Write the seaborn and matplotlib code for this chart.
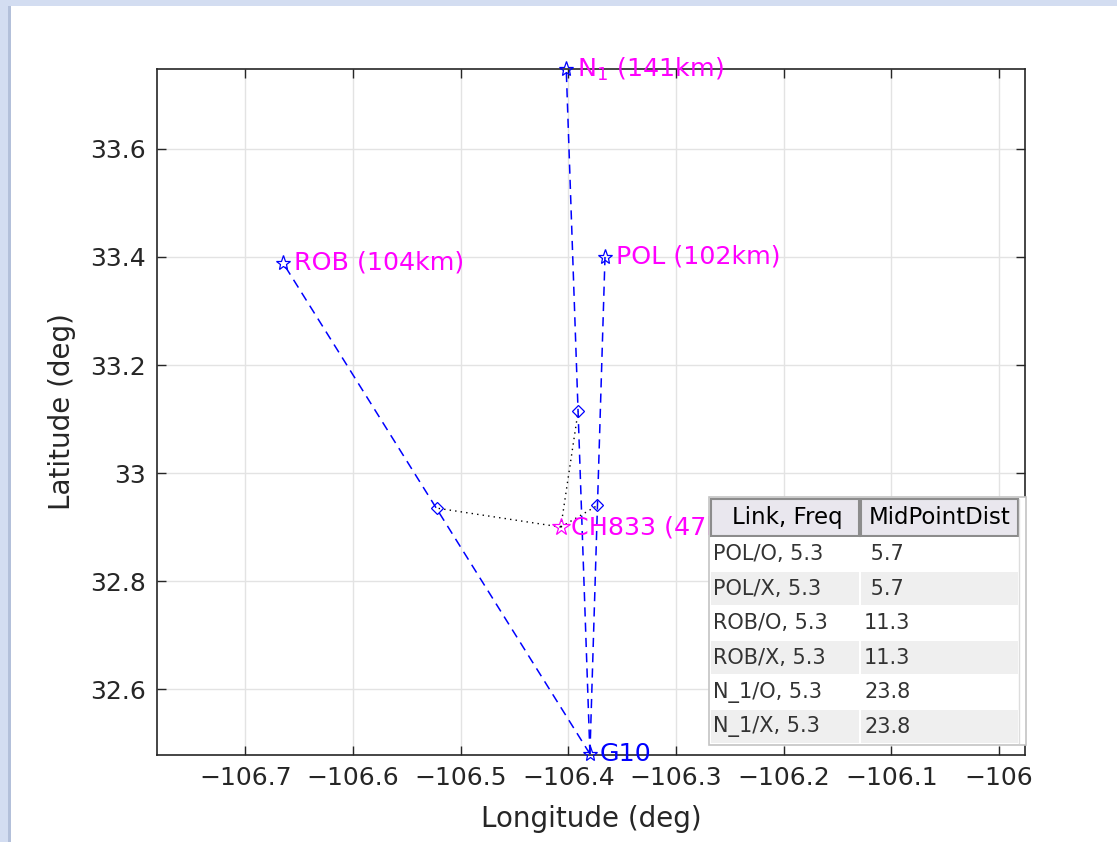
import numpy as np
import pandas as pd
import matplotlib
matplotlib.use("Agg")
import matplotlib.pyplot as plt
from matplotlib.patches import Rectangle
from matplotlib.transforms import Bbox, TransformedBbox
import seaborn as sns

# Station positions (deg)
station_names = ["ROB", "POL", "N_1"]
station_lon = [-106.665, -106.366, -106.402]
station_lat = [33.389, 33.400, 33.748]
station_dist_km = [104, 102, 141]

# Receiver G10
rx_name = "G10"
rx_lon = -106.380
rx_lat = 32.480

# Reference station CH833
ref_name = "CH833"
ref_lon = -106.407
ref_lat = 32.900
ref_dist_km = 47

# Link midpoints (same order as stations)
mid_lon = [-106.522, -106.373, -106.391]
mid_lat = [32.935, 32.940, 33.114]

# Table contents
table_header = ["Link, Freq", "MidPointDist"]
table_link = ["POL/O, 5.3", "POL/X, 5.3", "ROB/O, 5.3", "ROB/X, 5.3", "N_1/O, 5.3", "N_1/X, 5.3"]
table_dist = [5.7, 5.7, 11.3, 11.3, 23.8, 23.8]

x_ticks = [-106.7, -106.6, -106.5, -106.4, -106.3, -106.2, -106.1, -106.0]
x_ticklabels = ["\u2212106.7", "\u2212106.6", "\u2212106.5", "\u2212106.4",
                "\u2212106.3", "\u2212106.2", "\u2212106.1", "\u2212106"]
y_ticks = [32.6, 32.8, 33.0, 33.2, 33.4, 33.6]
y_ticklabels = ["32.6", "32.8", "33", "33.2", "33.4", "33.6"]

sns.set_theme(style="whitegrid")
plt.rcParams["font.family"] = ["DejaVu Sans"]

W, H = 1117, 842
fig = plt.figure(figsize=(W / 100, H / 100), dpi=100)
fig.patch.set_facecolor("#d3ddf1")
# white figure canvas inside the window frame
fig.patches.append(Rectangle((11 / W, 0), 1 - 11 / W, 1 - 6 / H, transform=fig.transFigure,
                             facecolor="white", edgecolor="none", zorder=-10))
fig.patches.append(Rectangle((8 / W, 0), 3 / W, 1 - 6 / H, transform=fig.transFigure,
                             facecolor="#b3c0da", edgecolor="none", zorder=-10))

ax = fig.add_axes([157 / W, 1 - 755 / H, (1025 - 157) / W, (755 - 69) / H], zorder=1)
ax.set_facecolor("white")

# Blue dashed links receiver -> transmitter
links = pd.DataFrame({
    "lon": sum([[rx_lon, lo] for lo in station_lon], []),
    "lat": sum([[rx_lat, la] for la in station_lat], []),
    "link": sum([[n, n] for n in station_names], []),
})
sns.lineplot(data=links, x="lon", y="lat", units="link", estimator=None, sort=False,
             color="#0000ff", linestyle=(0, (6, 4)), linewidth=1.1, ax=ax, zorder=3)

# Dotted lines reference -> midpoints
mids = pd.DataFrame({
    "lon": sum([[ref_lon, lo] for lo in mid_lon], []),
    "lat": sum([[ref_lat, la] for la in mid_lat], []),
    "link": sum([[n, n] for n in station_names], []),
})
sns.lineplot(data=mids, x="lon", y="lat", units="link", estimator=None, sort=False,
             color="black", linestyle=(0, (1, 3)), linewidth=1.0, ax=ax, zorder=3)

# Markers
ax.plot(station_lon + [rx_lon], station_lat + [rx_lat], linestyle="none", marker="*",
        markersize=11, markerfacecolor="none", markeredgecolor="#0000ff",
        markeredgewidth=0.9, zorder=4, clip_on=False)
ax.plot(mid_lon, mid_lat, linestyle="none", marker="D", markersize=6.5,
        markerfacecolor="none", markeredgecolor="#0000ff", markeredgewidth=0.9, zorder=4)
ax.plot([ref_lon], [ref_lat], linestyle="none", marker="*", markersize=13,
        markerfacecolor="none", markeredgecolor="#ff00ff", markeredgewidth=0.9, zorder=4)

# Labels
label_fs = 18.3
for name, lo, la, d in zip(station_names, station_lon, station_lat, station_dist_km):
    txt = "N$_1$ (%dkm)" % d if name == "N_1" else "%s (%dkm)" % (name, d)
    ax.annotate(txt, (lo, la), xytext=(8, 0), textcoords="offset points", va="center",
                ha="left", color="#ff00ff", fontsize=label_fs, zorder=5, annotation_clip=False)
ref_label = ax.annotate("%s (%dkm)" % (ref_name, ref_dist_km), (ref_lon, ref_lat),
                        xytext=(7, 0), textcoords="offset points", va="center", ha="left",
                        color="#ff00ff", fontsize=label_fs, zorder=5)
# the table panel covers the right part of this label
ref_label.set_clip_on(True)
ref_label.set_clip_box(TransformedBbox(Bbox([[0, 0], [709 / W, 1]]), fig.transFigure))
ax.annotate(rx_name, (rx_lon, rx_lat), xytext=(7, 0), textcoords="offset points",
            va="center", ha="left", color="#0000ff", fontsize=label_fs, zorder=5,
            annotation_clip=False)

ax.set_xlim(-106.782, -105.976)
ax.set_ylim(32.478, 33.748)
ax.set_xticks(x_ticks)
ax.set_xticklabels(x_ticklabels)
ax.set_yticks(y_ticks)
ax.set_yticklabels(y_ticklabels)
ax.tick_params(direction="in", length=6.5, width=1.0, color="#262626", labelsize=18,
               labelcolor="#262626", pad=8, top=True, right=True, bottom=True, left=True)
ax.grid(True, color="#e3e3e3", linewidth=1.0)
for s in ax.spines.values():
    s.set_color("#262626")
    s.set_linewidth(1.2)
    s.set_visible(True)
ax.set_xlabel("Longitude (deg)", fontsize=20, color="#262626", labelpad=11)
ax.set_ylabel("Latitude (deg)", fontsize=20, color="#262626", labelpad=10)

# Table overlay in pixel coordinates
tax = fig.add_axes([0, 0, 1, 1], zorder=10)
tax.set_xlim(0, W)
tax.set_ylim(H, 0)
tax.axis("off")
tax.patch.set_alpha(0)

x0, x1, xc, xr = 709, 1026, 860, 1018
y0, yh, y1 = 497, 536, 743
tax.add_patch(Rectangle((x0, y0), x1 - x0, y1 + 2 - y0, facecolor="white",
                        edgecolor="#c4c4c4", linewidth=1.2))
# header cells
tax.add_patch(Rectangle((x0 + 2, y0 + 2), xc - 1 - (x0 + 2), yh - y0 - 2,
                        facecolor="#e9e7ee", edgecolor="#8c8c8c", linewidth=1.5))
tax.add_patch(Rectangle((xc + 1, y0 + 2), xr - xc - 1, yh - y0 - 2,
                        facecolor="#e9e7ee", edgecolor="#8c8c8c", linewidth=1.5))
tax.text((x0 + xc) / 2 + 3, (y0 + yh) / 2 + 1, table_header[0], ha="center", va="center",
         fontsize=16.5, color="#000000")
tax.text((xc + xr) / 2 + 1, (y0 + yh) / 2 + 1, table_header[1], ha="center", va="center",
         fontsize=16.5, color="#000000")
rh = (y1 - yh) / len(table_link)
for i, (lk, dv) in enumerate(zip(table_link, table_dist)):
    ry = yh + i * rh
    bg = "white" if i % 2 == 0 else "#efefef"
    tax.add_patch(Rectangle((x0 + 2, ry + 1), xc - 1 - (x0 + 2), rh - 1, facecolor=bg,
                            edgecolor="none"))
    tax.add_patch(Rectangle((xc + 1, ry + 1), xr - xc - 1, rh - 1, facecolor=bg,
                            edgecolor="none"))
    tax.text(x0 + 4, ry + rh / 2 + 1, lk, ha="left", va="center", fontsize=15,
             color="#333333")
    tax.text(xc + 4, ry + rh / 2 + 1, "%4.1f" % dv, ha="left", va="center", fontsize=15,
             color="#333333")
tax.plot([xr + 1, xr + 1], [y0 + 2, y1], color="#dddddd", linewidth=1)

fig.savefig("out.png", dpi=100, facecolor=fig.get_facecolor())
